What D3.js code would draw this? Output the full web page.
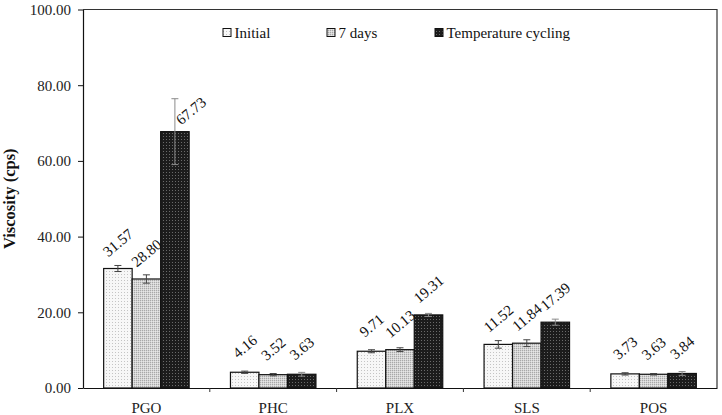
<!DOCTYPE html>
<html><head><meta charset="utf-8">
<script src="https://cdn.jsdelivr.net/npm/d3@7"></script>
<style>
html,body{margin:0;padding:0;background:#fff;}
svg{display:block;font-family:"Liberation Serif","Times New Roman",serif;}
</style></head>
<body>
<svg id="chart" width="722" height="415"></svg>
<script>
const categories = ["PGO", "PHC", "PLX", "SLS", "POS"];
const seriesNames = ["Initial", "7 days", "Temperature cycling"];
const initialVals = [31.57, 4.16, 9.71, 11.52, 3.73];
const sevenDayVals = [28.80, 3.52, 10.13, 11.84, 3.63];
const cyclingVals = [67.73, 3.63, 19.31, 17.39, 3.84];
const initialErr = [0.8, 0.3, 0.4, 1.0, 0.3];
const sevenDayErr = [1.1, 0.3, 0.5, 0.9, 0.2];
const cyclingErr = [8.7, 0.5, 0.4, 0.8, 0.5];
const yTicks = [0, 20, 40, 60, 80, 100];
const yTitle = "Viscosity (cps)";

const seriesVals = [initialVals, sevenDayVals, cyclingVals];
const seriesErr = [initialErr, sevenDayErr, cyclingErr];

const svg = d3.select("#chart");
const m = {left: 83, right: 717, top: 9.5, bottom: 388};

// patterns
const defs = svg.append("defs");
const p0 = defs.append("pattern").attr("id","pat0").attr("patternUnits","userSpaceOnUse").attr("width",3).attr("height",3);
p0.append("rect").attr("width",3).attr("height",3).attr("fill","#f7f7f7");
p0.append("rect").attr("x",1).attr("y",1).attr("width",1).attr("height",1).attr("fill","#c4c4c4");
const p1 = defs.append("pattern").attr("id","pat1").attr("patternUnits","userSpaceOnUse").attr("width",2).attr("height",2);
p1.append("rect").attr("width",2).attr("height",2).attr("fill","#d4d4d4");
p1.append("rect").attr("x",0).attr("y",0).attr("width",1).attr("height",1).attr("fill","#a8a8a8");
p1.append("rect").attr("x",1).attr("y",1).attr("width",1).attr("height",1).attr("fill","#e6e6e6");
const p2 = defs.append("pattern").attr("id","pat2").attr("patternUnits","userSpaceOnUse").attr("width",3).attr("height",3);
p2.append("rect").attr("width",3).attr("height",3).attr("fill","#1c1c1c");
p2.append("rect").attr("x",1).attr("y",1).attr("width",1).attr("height",1).attr("fill","#6a6a6a");
const fills = ["url(#pat0)","url(#pat1)","url(#pat2)"];

const x = d3.scaleBand().domain(categories).range([m.left, m.right]).paddingInner(0).paddingOuter(0);
const xs = d3.scaleBand().domain(d3.range(3)).range([0, x.bandwidth()]).paddingInner(0).paddingOuter(0.725);
const y = d3.scaleLinear().domain([0, 100]).range([m.bottom, m.top]);

// plot border (top/right)
svg.append("path")
  .attr("d", `M${m.left},${m.top}H${m.right}V${m.bottom}`)
  .attr("fill","none").attr("stroke","#333").attr("stroke-width",1.2);

// bars
const bars = svg.append("g");
seriesVals.forEach((vals, si) => {
  bars.selectAll(null).data(vals).enter().append("rect")
    .attr("x", (d,i) => x(categories[i]) + xs(si))
    .attr("y", d => y(d))
    .attr("width", xs.bandwidth())
    .attr("height", d => y(0) - y(d))
    .attr("fill", fills[si])
    .attr("stroke", "#111").attr("stroke-width", 1.2);
});

// error bars
const eg = svg.append("g").attr("stroke-width", 1);
seriesVals.forEach((vals, si) => {
  vals.forEach((v, i) => {
    const cx = x(categories[i]) + xs(si) + xs.bandwidth()/2;
    const e = seriesErr[si][i];
    const col = si === 2 ? "#8a8a8a" : "#444";
    const g = eg.append("g").attr("stroke", col);
    g.append("line").attr("x1",cx).attr("x2",cx).attr("y1",y(v+e)).attr("y2",y(v-e));
    g.append("line").attr("x1",cx-3.5).attr("x2",cx+3.5).attr("y1",y(v+e)).attr("y2",y(v+e));
    g.append("line").attr("x1",cx-3.5).attr("x2",cx+3.5).attr("y1",y(v-e)).attr("y2",y(v-e));
  });
});

// value labels
const lg = svg.append("g").attr("font-size", 15).attr("fill", "#111");
seriesVals.forEach((vals, si) => {
  vals.forEach((v, i) => {
    let cx = x(categories[i]) + xs(si) + xs.bandwidth()/2;
    let cy = y(v) - 26;
    const ePx = y(v) - y(v + seriesErr[si][i]);
    if (ePx > 15) { cx += 16; cy += 5; }
    lg.append("text")
      .attr("transform", `translate(${cx},${cy}) rotate(-40)`)
      .attr("text-anchor", "middle")
      .attr("dy", "0.35em")
      .text(d3.format(".2f")(v));
  });
});

// y axis
const yAxis = svg.append("g").attr("transform", `translate(${m.left},0)`)
  .call(d3.axisLeft(y).tickValues(yTicks).tickFormat(d3.format(".2f")).tickSize(5).tickPadding(7).tickSizeOuter(0));
yAxis.select(".domain").attr("stroke","#111").attr("stroke-width",1.2);
yAxis.selectAll(".tick line").attr("stroke","#111");
yAxis.selectAll(".tick text").attr("font-size",15).attr("fill","#222").attr("font-family","Liberation Serif, serif");

// x axis
const xAxis = svg.append("g").attr("transform", `translate(0,${m.bottom})`)
  .call(d3.axisBottom(x).tickSize(0).tickPadding(14).tickSizeOuter(0));
xAxis.select(".domain").attr("stroke","#111").attr("stroke-width",1.2);
xAxis.selectAll(".tick text").attr("font-size",15).attr("fill","#222").attr("font-family","Liberation Serif, serif");
// separator ticks between categories
svg.append("g").selectAll("line").data(categories.slice(1)).enter().append("line")
  .attr("x1", d => x(d)).attr("x2", d => x(d))
  .attr("y1", m.bottom).attr("y2", m.bottom + 4)
  .attr("stroke", "#333");

// y title
svg.append("text")
  .attr("transform", `translate(15,${(m.top+m.bottom)/2}) rotate(-90)`)
  .attr("text-anchor","middle")
  .attr("font-size",16.5).attr("font-weight","bold").attr("fill","#111")
  .text(yTitle);

// legend
const legendX = [223, 327, 435];
const leg = svg.append("g");
seriesNames.forEach((name, si) => {
  const gx = legendX[si];
  leg.append("rect").attr("x", gx).attr("y", 28.5).attr("width", 8).attr("height", 8)
    .attr("fill", fills[si]).attr("stroke","#111").attr("stroke-width",1);
  leg.append("text").attr("x", gx + 11.5).attr("y", 38).attr("font-size",15).attr("fill","#111").text(name);
});
</script>
</body></html>
